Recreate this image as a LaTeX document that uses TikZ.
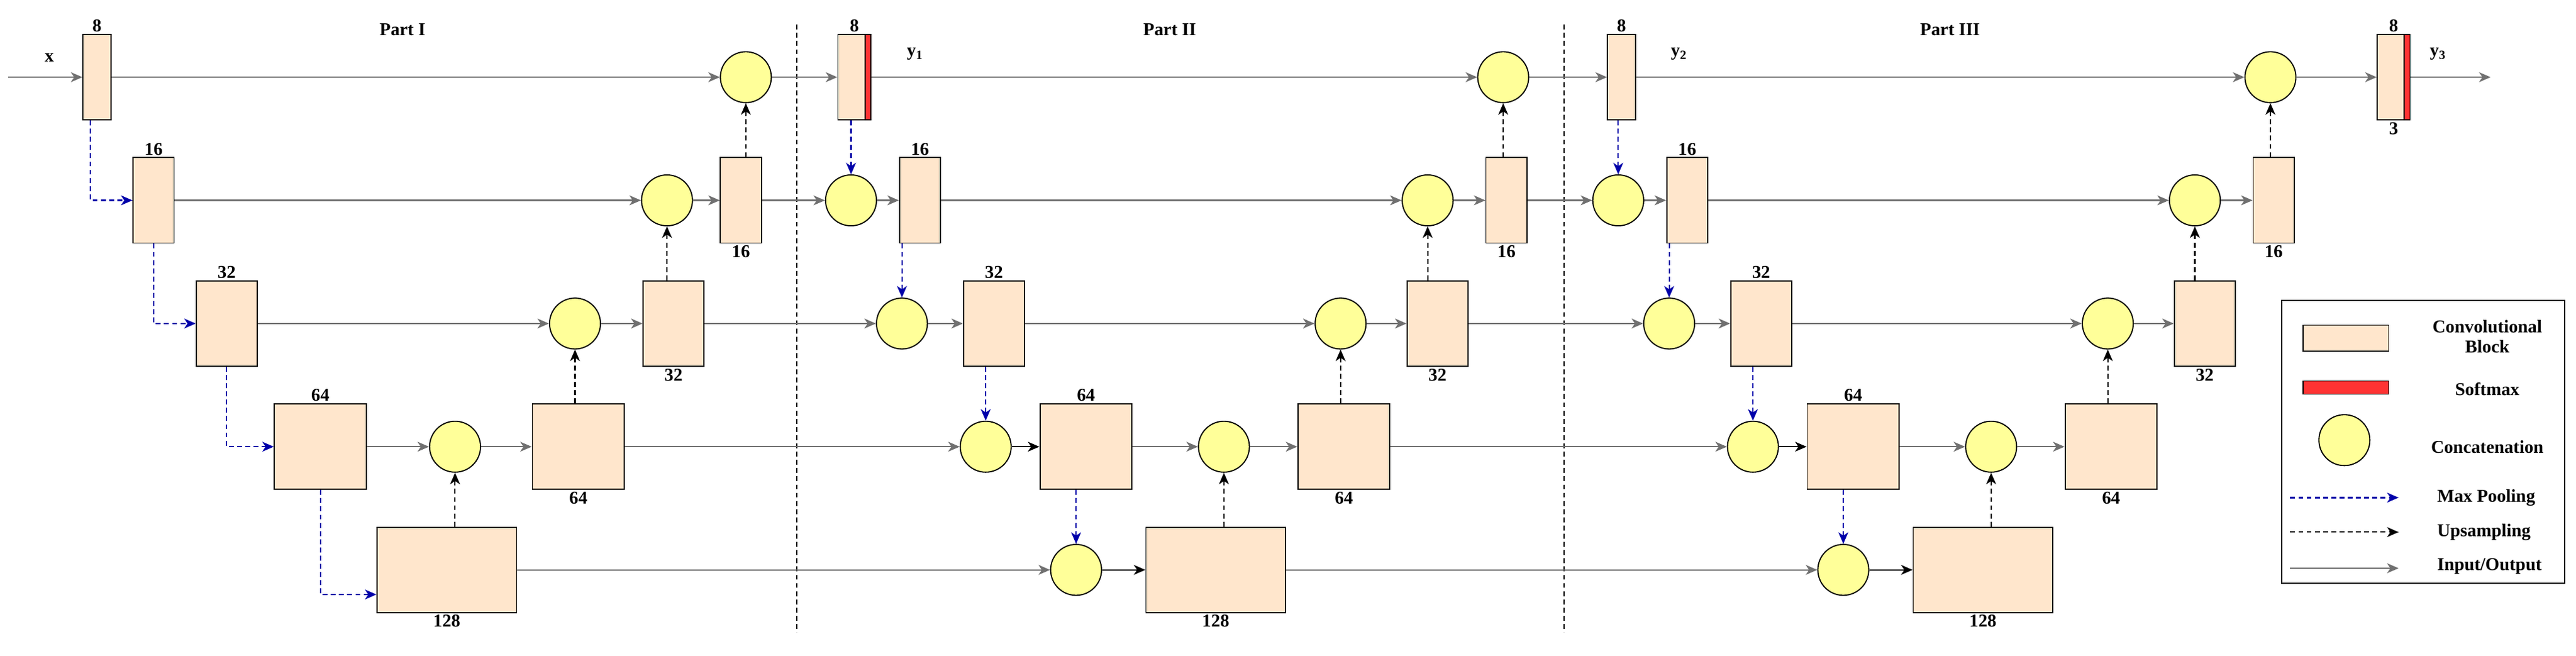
\documentclass[tikz,border=0pt]{standalone}
\usepackage{fontspec}
\setmainfont{Liberation Serif}
\usetikzlibrary{arrows.meta}
\definecolor{conv}{RGB}{255,230,204}
\definecolor{cat}{RGB}{255,255,153}
\definecolor{soft}{RGB}{255,51,51}
\definecolor{io}{RGB}{112,112,112}
\definecolor{pl}{RGB}{0,0,170}
\begin{document}
\begin{tikzpicture}[x=1pt,y=-1pt,
  every node/.style={font=\fontsize{11}{12}\selectfont\bfseries},
  blk/.style={draw,line width=0.7pt,fill=conv,minimum height=52pt,minimum width=#1,inner sep=0pt},
  cc/.style={draw,line width=0.7pt,fill=cat,circle,minimum size=31pt,inner sep=0pt},
  io/.style={draw=io,line width=0.8pt,-{Stealth[length=7pt,width=6pt,inset=2pt]},color=io},
  bk/.style={draw=black,line width=0.8pt,-{Stealth[length=7pt,width=6pt,inset=2pt]}},
  pool/.style={draw=pl,line width=0.8pt,dash pattern=on 3pt off 2pt,-{Stealth[length=7pt,width=6pt,inset=2pt]},color=pl},
  up/.style={draw=black,line width=0.8pt,dash pattern=on 3pt off 2pt,-{Stealth[length=7pt,width=6pt,inset=2pt]}},
  lab/.style={inner sep=1pt}]
\useasboundingbox (0,0) rectangle (1568,399.4);
% dividers
\draw[line width=0.7pt,dash pattern=on 3pt off 2pt] (485,15) -- (485,385);
\draw[line width=0.7pt,dash pattern=on 3pt off 2pt] (952,15) -- (952,385);
\node at (245,18) {Part I};
\node at (712,18) {Part II};
\node at (1187,18) {Part III};
% Part I
\coordinate (in) at (5,47);
\node[lab] at (30,35) {x};
\node[blk=17pt,label={[lab]above:8}] (b1) at (59,47) {};
\node[blk=25pt,label={[lab]above:16}] (e16) at (93.5,122) {};
\node[blk=37pt,label={[lab]above:32}] (e32) at (138,197) {};
\node[blk=56pt,label={[lab]above:64}] (e64) at (195,272) {};
\node[blk=85pt,label={[lab]below:128}] (b128) at (272,347) {};
\node[cc] (c4) at (277,272) {};
\node[blk=56pt,label={[lab]below:64}] (d64) at (352,272) {};
\node[cc] (c3) at (350,197) {};
\node[blk=37pt,label={[lab]below:32}] (d32) at (410,197) {};
\node[cc] (c2) at (406,122) {};
\node[blk=25pt,label={[lab]below:16}] (d16) at (451,122) {};
\node[cc] (c1) at (454,47) {};
\draw[io] (in) -- (b1);
\draw[io] (b1) -- (c1);
\draw[io] (e16) -- (c2);
\draw[io] (c2) -- (d16);
\draw[io] (e32) -- (c3);
\draw[io] (c3) -- (d32);
\draw[io] (e64) -- (c4);
\draw[io] (c4) -- (d64);
\draw[pool] ([xshift=-4pt]b1.south) |- (e16.west);
\draw[pool] (e16.south) |- (e32.west);
\draw[pool] (e32.south) |- (e64.west);
\draw[pool] (e64.south) |- ([yshift=-15pt]b128.west);
\draw[up] (b128.north -| c4) -- (c4.south);
\draw[up] (d64.north -| c3) -- (c3.south);
\draw[up] (d32.north -| c2) -- (c2.south);
\draw[up] (d16.north -| c1) -- (c1.south);
% outputs blocks
\node[blk=20pt,label={[lab]above:8}] (s1) at (520,47) {};
\fill[soft] (526.5,21) rectangle (530,73); \draw[line width=0.7pt] (510,21) rectangle (530,73); \draw[line width=0.7pt] (526.5,21)--(526.5,73);
\node[lab] at (557,33) {y$_{\mathbf 1}$};
\node[blk=17pt,label={[lab]above:8}] (s2) at (987,47) {};
\node[lab] at (1022,33) {y$_{\mathbf 2}$};
\node[blk=20pt,label={[lab]above:8},label={[lab]below:3}] (s3) at (1457,47) {};
\fill[soft] (1463.5,21) rectangle (1467,73); \draw[line width=0.7pt] (1447,21) rectangle (1467,73); \draw[line width=0.7pt] (1463.5,21)--(1463.5,73);
\node[lab] at (1484,33) {y$_{\mathbf 3}$};
\coordinate (out) at (1516,47);
% parts II and III
\newcommand\mypart[2]{%
\node[cc] (r2#2) at ({#1+518},122) {};
\node[blk=25pt,label={[lab]above:16}] (e16#2) at ({#1+560},122) {};
\node[cc] (r3#2) at ({#1+549},197) {};
\node[blk=37pt,label={[lab]above:32}] (e32#2) at ({#1+605},197) {};
\node[cc] (r4#2) at ({#1+600},272) {};
\node[blk=56pt,label={[lab]above:64}] (e64#2) at ({#1+661},272) {};
\node[cc] (r5#2) at ({#1+655},347) {};
\node[blk=85pt,label={[lab]below:128}] (b128#2) at ({#1+740},347) {};
\node[cc] (u4#2) at ({#1+745},272) {};
\node[blk=56pt,label={[lab]below:64}] (d64#2) at ({#1+818},272) {};
\node[cc] (u3#2) at ({#1+816},197) {};
\node[blk=37pt,label={[lab]below:32}] (d32#2) at ({#1+875},197) {};
\node[cc] (u2#2) at ({#1+869},122) {};
\node[blk=25pt,label={[lab]below:16}] (d16#2) at ({#1+917},122) {};
\node[cc] (u1#2) at ({#1+915},47) {};
\draw[io] (r2#2) -- (e16#2);
\draw[io] (e16#2) -- (u2#2);
\draw[io] (u2#2) -- (d16#2);
\draw[io] (r3#2) -- (e32#2);
\draw[io] (e32#2) -- (u3#2);
\draw[io] (u3#2) -- (d32#2);
\draw[bk] (r4#2) -- (e64#2);
\draw[io] (e64#2) -- (u4#2);
\draw[io] (u4#2) -- (d64#2);
\draw[bk] (r5#2) -- (b128#2);
\draw[pool] (e16#2.south -| r3#2) -- (r3#2.north);
\draw[pool] (e32#2.south -| r4#2) -- (r4#2.north);
\draw[pool] (e64#2.south -| r5#2) -- (r5#2.north);
\draw[up] (b128#2.north -| u4#2) -- (u4#2.south);
\draw[up] (d64#2.north -| u3#2) -- (u3#2.south);
\draw[up] (d32#2.north -| u2#2) -- (u2#2.south);
\draw[up] (d16#2.north -| u1#2) -- (u1#2.south);
}
\mypart{0}{a}
\mypart{467}{b}
% cross-part connections
\draw[io] (c1) -- (s1);
\draw[io] (d16) -- (r2a);
\draw[io] (d32) -- (r3a);
\draw[io] (d64) -- (r4a);
\draw[io] (b128) -- (r5a);
\draw[io] (s1) -- (u1a);
\draw[pool] (s1.south -| r2a) -- (r2a.north);
\draw[io] (u1a) -- (s2);
\draw[io] (d16a) -- (r2b);
\draw[io] (d32a) -- (r3b);
\draw[io] (d64a) -- (r4b);
\draw[io] (b128a) -- (r5b);
\draw[io] (s2) -- (u1b);
\draw[pool] (s2.south -| r2b) -- (r2b.north);
\draw[io] (u1b) -- (s3);
\draw[io] (s3) -- (out);
% legend
\draw[line width=0.8pt] (1389,183) rectangle (1561,355);
\node[blk=52pt,minimum height=16pt] (lg1) at (1428,206) {};
\node[align=center] at (1514,205) {Convolutional\\Block};
\node[draw,line width=0.7pt,fill=soft,minimum width=52pt,minimum height=8pt,inner sep=0pt] (lg2) at (1428,236) {};
\node at (1514,237) {Softmax};
\node[cc] (lg3) at (1427,268) {};
\node at (1514,272) {Concatenation};
\coordinate (p1) at (1394,303); \coordinate (p2) at (1460,303);
\draw[pool] (p1) -- (p2);
\node[anchor=west] at (1480,303) {Max Pooling};
\coordinate (q1) at (1394,324); \coordinate (q2) at (1460,324);
\draw[up] (q1) -- (q2);
\node[anchor=west] at (1480,324) {Upsampling};
\coordinate (w1) at (1394,346); \coordinate (w2) at (1460,346);
\draw[io] (w1) -- (w2);
\node[anchor=west] at (1480,345) {Input/Output};
\end{tikzpicture}
\end{document}
